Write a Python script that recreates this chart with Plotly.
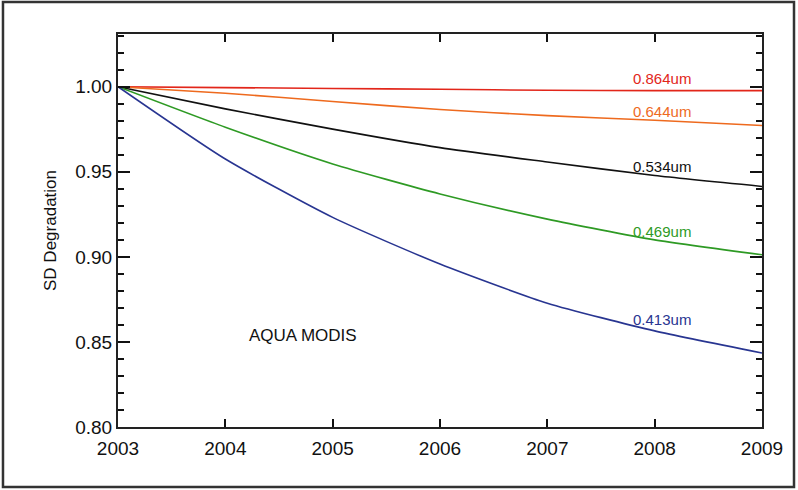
import plotly.graph_objects as go

years = [2003, 2004, 2005, 2006, 2007, 2008, 2009]
band_labels = ["0.864um", "0.644um", "0.534um", "0.469um", "0.413um"]
red_864 = [1.000, 0.9995, 0.9990, 0.9985, 0.9979, 0.9977, 0.9977]
orange_644 = [1.000, 0.9962, 0.9913, 0.9866, 0.9830, 0.9803, 0.9772]
black_534 = [1.000, 0.9870, 0.9751, 0.9642, 0.9558, 0.9478, 0.9414]
green_469 = [1.000, 0.9762, 0.9546, 0.9370, 0.9222, 0.9100, 0.9012]
blue_413 = [1.000, 0.9575, 0.9232, 0.8958, 0.8728, 0.8565, 0.8435]
series = [red_864, orange_644, black_534, green_469, blue_413]
colors = ["#e2261a", "#ee6a1e", "#111111", "#2e9a24", "#283591"]
label_x = [2008.07] * 5
label_y = [1.0047, 0.9853, 0.9529, 0.9147, 0.8629]
x_ticks = [2003, 2004, 2005, 2006, 2007, 2008, 2009]
y_ticks = [0.80, 0.85, 0.90, 0.95, 1.00]

fig = go.Figure()
for vals, col in zip(series, colors):
    fig.add_trace(go.Scatter(x=years, y=vals, mode="lines",
                             line=dict(color=col, width=1.6, shape="spline", smoothing=0.6),
                             showlegend=False, hoverinfo="skip"))

for lx, ly, txt, col in zip(label_x, label_y, band_labels, colors):
    fig.add_annotation(x=lx, y=ly, text=txt, showarrow=False,
                       font=dict(family="Liberation Sans, Arial", size=15, color=col))

fig.add_annotation(x=2004.72, y=0.8535, text="AQUA MODIS", showarrow=False,
                   font=dict(family="Liberation Sans, Arial", size=17, color="#111111"))

fig.add_shape(type="rect", xref="paper", yref="paper",
              x0=-0.1786, x1=1.0497, y0=-0.1527, y1=1.0814,
              line=dict(color="#333333", width=2.5), layer="below")

fig.update_layout(
    width=798, height=490,
    margin=dict(l=118, r=36, t=34, b=63),
    paper_bgcolor="white", plot_bgcolor="white",
    font=dict(family="Liberation Sans, Arial", color="#111111"),
    xaxis=dict(range=[2003, 2009], tickvals=x_ticks, ticktext=[str(v) for v in x_ticks],
               ticks="inside", ticklen=8, tickwidth=1.5, tickcolor="#111111",
               showline=True, linecolor="#222222", linewidth=2, mirror="ticks",
               showgrid=False, zeroline=False, tickfont=dict(size=19), ticklabelstandoff=3),
    yaxis=dict(range=[0.8, 1.031], tickvals=y_ticks, ticktext=["%.2f" % v for v in y_ticks],
               ticks="inside", ticklen=12, tickwidth=1.5, tickcolor="#111111",
               minor=dict(dtick=0.01, ticks="inside", ticklen=6, tickwidth=1.5, tickcolor="#111111"),
               showline=True, linecolor="#222222", linewidth=2, mirror="ticks",
               showgrid=False, zeroline=False, tickfont=dict(size=19),
               title=dict(text="SD Degradation", font=dict(size=17), standoff=14)),
)

fig.write_html("out.html", config={"displayModeBar": False},
               post_script="document.body.style.margin='0';")
